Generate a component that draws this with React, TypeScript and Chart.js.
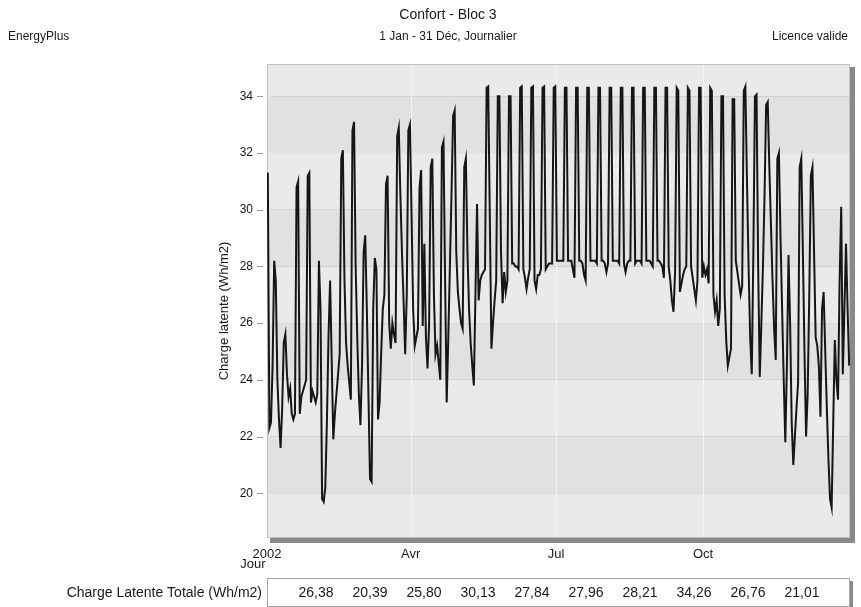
import React, { useEffect, useRef } from 'react';
import { Chart, registerables } from 'chart.js';

Chart.register(...registerables);

// Daily latent load (Wh/m2), 2002, one array per month
const jan = [31.3, 22.3, 22.5, 24.5, 28.2, 27.5, 24.0, 22.6, 21.6, 23.0, 25.3, 25.6, 24.2, 23.4, 23.7, 22.8, 22.6, 22.8, 30.8, 31.0, 22.8, 23.4, 23.6, 23.8, 24.0, 31.2, 31.3, 23.2, 23.6, 23.4, 23.2];
const feb = [23.5, 28.2, 26.5, 19.8, 19.7, 20.2, 22.5, 25.5, 27.5, 24.7, 21.9, 22.8, 23.5, 24.2, 24.9, 31.8, 32.1, 27.5, 25.3, 24.5, 23.9, 23.3, 32.8, 33.1, 28.0, 25.5, 23.5, 22.4];
const mar = [24.5, 28.5, 29.1, 26.5, 23.5, 20.5, 20.4, 26.5, 28.3, 27.9, 22.6, 23.2, 25.0, 26.5, 27.0, 30.9, 31.2, 26.0, 25.1, 26.0, 25.6, 25.3, 32.6, 32.9, 30.5, 28.5, 26.8, 24.9, 27.0, 32.8, 33.0];
const apr = [29.8, 26.5, 25.2, 25.5, 25.8, 30.8, 31.4, 25.9, 28.8, 25.5, 24.4, 26.0, 31.5, 31.8, 27.0, 24.9, 25.2, 24.6, 24.0, 32.2, 32.4, 27.5, 23.2, 25.5, 28.0, 30.5, 33.3, 33.5, 28.5, 27.1];
const may = [26.5, 26.0, 25.8, 31.5, 31.8, 28.5, 26.5, 25.3, 24.5, 23.8, 27.0, 30.2, 26.8, 27.5, 27.7, 27.8, 27.9, 34.3, 34.35, 29.7, 25.1, 26.0, 26.8, 27.5, 34.0, 34.0, 28.5, 26.7, 27.8, 27.1, 27.5];
const jun = [34.0, 34.0, 28.1, 28.1, 28.0, 28.0, 27.9, 34.3, 34.35, 27.9, 27.6, 27.2, 27.6, 27.9, 34.3, 34.35, 27.5, 27.2, 27.7, 27.7, 27.9, 34.3, 34.35, 27.9, 28.0, 28.1, 28.1, 28.1, 34.3, 34.35];
const jul = [28.2, 28.2, 28.2, 28.2, 28.2, 34.3, 34.3, 28.2, 28.2, 28.2, 27.9, 27.6, 34.3, 34.3, 28.2, 28.2, 28.1, 27.7, 27.5, 34.3, 34.3, 28.2, 28.2, 28.2, 28.2, 28.1, 34.3, 34.3, 28.2, 28.2, 28.1];
const aug = [27.8, 28.1, 34.3, 34.3, 28.2, 28.2, 28.2, 28.2, 28.1, 34.3, 34.3, 28.1, 27.8, 28.1, 28.2, 28.2, 34.3, 34.3, 28.1, 28.2, 28.2, 28.2, 28.1, 34.3, 34.3, 28.2, 28.2, 28.2, 28.1, 28.0, 34.3];
const sep = [34.3, 28.2, 28.2, 28.1, 28.0, 27.6, 34.3, 34.3, 28.0, 27.5, 26.8, 26.4, 27.8, 34.3, 34.2, 27.1, 27.4, 27.7, 27.9, 28.0, 34.3, 34.2, 28.0, 27.6, 27.2, 26.8, 27.5, 34.3, 34.3, 27.6];
const oct = [28.0, 27.7, 27.9, 27.4, 34.3, 34.2, 27.0, 26.4, 26.8, 25.9, 26.5, 34.0, 34.0, 27.0, 25.4, 24.5, 24.8, 25.1, 33.9, 33.9, 28.2, 27.8, 27.4, 27.0, 27.3, 34.2, 34.35, 31.0, 28.0, 25.5, 24.2];
const nov = [28.5, 34.0, 34.06, 28.0, 24.1, 26.0, 28.0, 30.5, 33.7, 33.8, 31.5, 29.5, 27.5, 25.8, 24.7, 31.8, 32.0, 29.0, 26.5, 24.0, 21.8, 24.5, 28.4, 26.0, 22.5, 21.0, 22.0, 23.0, 23.9, 31.5];
const dec = [31.8, 28.5, 25.0, 22.0, 23.5, 27.0, 31.2, 31.5, 28.5, 25.5, 25.2, 24.5, 22.7, 26.5, 27.1, 25.0, 23.0, 21.2, 19.8, 19.5, 22.5, 25.4, 24.0, 23.3, 27.5, 30.1, 24.2, 26.5, 28.8, 26.5, 24.5];

const dailyValues = [...jan, ...feb, ...mar, ...apr, ...may, ...jun, ...jul, ...aug, ...sep, ...oct, ...nov, ...dec];

const xTickDays = [0, 90, 181, 273];
const xTickLabels = ['2002', 'Avr', 'Jul', 'Oct'];
const yTickValues = [20, 22, 24, 26, 28, 30, 32, 34];
const tableLabel = 'Charge Latente Totale (Wh/m2)';
const tableValues = ['26,38', '20,39', '25,80', '30,13', '27,84', '27,96', '28,21', '34,26', '26,76', '21,01'];

const FONT = "'Liberation Sans', Arial, Helvetica, sans-serif";

export default function App() {
  const ref = useRef<HTMLCanvasElement>(null);

  useEffect(() => {
    document.body.style.margin = '0';
    const canvas = ref.current;
    if (!canvas) return;

    const decor = {
      id: 'decor',
      beforeDatasetsDraw(chart: any) {
        const { ctx, chartArea: a, scales } = chart;
        const y = scales.y;
        const x = scales.x;
        const w = a.right - a.left;
        const h = a.bottom - a.top;
        ctx.save();
        // drop shadow
        ctx.fillStyle = '#8a8a8a';
        ctx.fillRect(a.left + 3, a.top + 3, w + 2, h + 2);
        // bands
        const edges = [y.min, ...yTickValues, y.max];
        for (let i = 0; i < edges.length - 1; i++) {
          const y0 = y.getPixelForValue(edges[i]);
          const y1 = y.getPixelForValue(edges[i + 1]);
          ctx.fillStyle = i % 2 === 0 ? '#eaeaea' : '#e1e1e1';
          ctx.fillRect(a.left, y1, w, y0 - y1);
        }
        // vertical grid lines at month ticks
        ctx.strokeStyle = '#f4f4f4';
        ctx.lineWidth = 1;
        xTickDays.slice(1).forEach((d) => {
          const px = Math.round(x.getPixelForValue(d)) + 0.5;
          ctx.beginPath();
          ctx.moveTo(px, a.top);
          ctx.lineTo(px, a.bottom);
          ctx.stroke();
        });
        // border
        ctx.strokeStyle = '#c2c2c2';
        ctx.strokeRect(a.left + 0.5, a.top + 0.5, w - 1, h - 1);
        // y tick marks
        ctx.strokeStyle = '#9a9a9a';
        yTickValues.forEach((v) => {
          const py = Math.round(y.getPixelForValue(v)) + 0.5;
          ctx.beginPath();
          ctx.moveTo(a.left - 10, py);
          ctx.lineTo(a.left - 4, py);
          ctx.stroke();
        });
        ctx.restore();
      },
      afterDraw(chart: any) {
        const { ctx, chartArea: a } = chart;
        ctx.save();
        ctx.fillStyle = '#1a1a1a';
        ctx.textBaseline = 'middle';
        // titles
        ctx.textAlign = 'center';
        ctx.font = `14px ${FONT}`;
        ctx.fillText('Confort - Bloc 3', 448, 15);
        ctx.font = `12px ${FONT}`;
        ctx.fillText('1 Jan - 31 Déc, Journalier', 448, 37);
        ctx.textAlign = 'left';
        ctx.fillText('EnergyPlus', 8, 37);
        ctx.textAlign = 'right';
        ctx.fillText('Licence valide', 848, 37);
        // y axis title
        ctx.save();
        ctx.translate(224, (a.top + a.bottom) / 2 + 10);
        ctx.rotate(-Math.PI / 2);
        ctx.textAlign = 'center';
        ctx.font = `13px ${FONT}`;
        ctx.fillText('Charge latente (Wh/m2)', 0, 0);
        ctx.restore();
        // Jour
        ctx.textAlign = 'center';
        ctx.font = `13px ${FONT}`;
        ctx.fillText('Jour', 253, 564);
        // table
        const bx = a.left;
        const by = 578;
        const bw = a.right - a.left;
        const bh = 28;
        ctx.fillStyle = '#8a8a8a';
        ctx.fillRect(bx + bw, by + 3, 3, bh);
        ctx.fillStyle = '#ffffff';
        ctx.fillRect(bx, by, bw, bh);
        ctx.strokeStyle = '#a8a8a8';
        ctx.lineWidth = 1;
        ctx.strokeRect(bx + 0.5, by + 0.5, bw - 1, bh);
        ctx.fillStyle = '#1a1a1a';
        ctx.font = `14px ${FONT}`;
        ctx.textAlign = 'right';
        ctx.fillText(tableLabel, 262, 593);
        ctx.textAlign = 'center';
        tableValues.forEach((t, i) => {
          ctx.fillText(t, 316 + 54 * i, 593);
        });
        ctx.restore();
      },
    };

    const chart = new Chart(canvas, {
      type: 'line',
      data: {
        datasets: [
          {
            data: dailyValues.map((v, i) => ({ x: i + 0.5, y: v })),
            borderColor: '#161616',
            borderWidth: 2,
            pointRadius: 0,
            fill: false,
            tension: 0,
          },
        ],
      },
      options: {
        animation: false,
        responsive: true,
        maintainAspectRatio: false,
        layout: { padding: { top: 64, right: 11, left: 0, bottom: 0 } },
        plugins: {
          legend: { display: false },
          tooltip: { enabled: false },
          title: { display: false },
        },
        scales: {
          x: {
            type: 'linear',
            min: 0,
            max: 365,
            afterFit: (s: any) => {
              s.height = 69;
            },
            afterBuildTicks: (s: any) => {
              s.ticks = xTickDays.map((v) => ({ value: v }));
            },
            ticks: {
              autoSkip: false,
              maxRotation: 0,
              padding: 9,
              color: '#1a1a1a',
              font: { family: FONT, size: 13 },
              callback: (v: any) => xTickLabels[xTickDays.indexOf(Number(v))] ?? '',
            },
            grid: { display: false, drawTicks: false },
            border: { display: false },
          },
          y: {
            min: 18.42,
            max: 35.14,
            afterFit: (s: any) => {
              s.width = 267;
            },
            afterBuildTicks: (s: any) => {
              s.ticks = yTickValues.map((v) => ({ value: v }));
            },
            ticks: {
              padding: 14,
              color: '#1a1a1a',
              font: { family: FONT, size: 12 },
              callback: (v: any) => String(v),
            },
            grid: { display: false, drawTicks: false },
            border: { display: false },
          },
        },
      },
      plugins: [decor],
    });

    return () => chart.destroy();
  }, []);

  return (
    <div style={{ position: 'absolute', left: 0, top: 0, width: 861, height: 607, background: '#ffffff' }}>
      <canvas ref={ref} width={861} height={607} />
    </div>
  );
}
